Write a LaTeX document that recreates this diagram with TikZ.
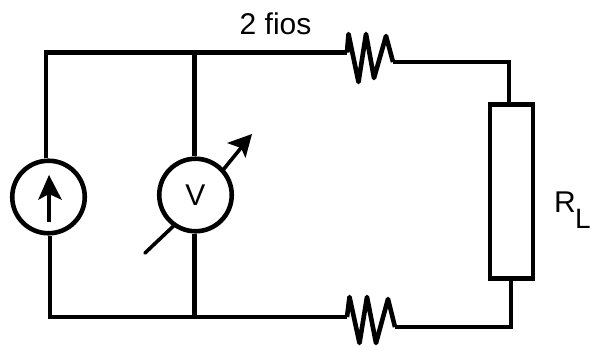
\documentclass[tikz,border=0pt]{standalone}
\usepackage{fontspec}
\setmainfont{Liberation Sans}
\tikzset{
  wire/.style={line width=4.8pt,line join=miter},
  thinwire/.style={line width=3.6pt,line cap=round},
  meter/.style={circle,draw,line width=4.6pt,minimum size=72.5pt,inner sep=0pt,font=\fontsize{30}{30}\selectfont},
  loadbox/.style={rectangle,draw,line width=4.8pt,minimum width=43pt,minimum height=174.5pt,inner sep=0pt},
  label/.style={inner sep=0pt,font=\fontsize{30}{30}\selectfont,text=black},
  coil/.style={line width=4.6pt,line join=round,line cap=butt}
}
\begin{document}
\begin{tikzpicture}[x=1pt,y=-1pt]
\useasboundingbox (0,0) rectangle (591,349);
\fill[white] (0,0) rectangle (591,349);
% instruments
\node[meter] (src) at (48.5,197) {};
\node[meter] (vm) at (195.5,195) {\raisebox{0pt}{V}};
\node[loadbox] (load) at (511.5,191.5) {};
% named corner points
\coordinate (tl) at (46,52.5);
\coordinate (tm) at (194.5,52.5);
\coordinate (bl) at (50,317);
\coordinate (bm) at (194.5,317);
\coordinate (r1a) at (347,52.5);
\coordinate (r1b) at (393,62);
\coordinate (r2a) at (347,317);
\coordinate (r2b) at (395,327);
\coordinate (c1) at (509,62);
\coordinate (c2) at (511,327);
% wires
\draw[wire] (src.north -| tl) -- (tl) -- (r1a);
\draw[wire] (tm) -- (vm.north -| tm);
\draw[wire] (src.south -| bl) -- (bl) -- (r2a);
\draw[wire] (bm) -- (vm.south -| bm);
\draw[wire] (r1b) -- (c1) -- (load.north -| c1);
\draw[wire] (r2b) -- (c2) -- (load.south -| c2);
% series resistances
\draw[coil] (r1a) -- (348.5,34) -- (358.5,82) -- (366,34) -- (374,78) -- (386,36) -- (r1b);
\draw[coil] (r2a) -- (349.5,297) -- (359.5,343) -- (367,297) -- (376,343) -- (388,299) -- (r2b);
% source arrow
\coordinate (sa) at (49,222);
\coordinate (sb) at (49,185);
\draw[line width=4.8pt] (sa) -- (sb);
\fill (49,175) -- (62,200) -- (49,194) -- (38,200) -- cycle;
% meter needle
\coordinate (n1) at (145,253);
\coordinate (n2) at (173.5,226);
\coordinate (n3) at (223,170);
\coordinate (n4) at (245,143);
\draw[thinwire] (n1) -- (n2);
\draw[thinwire] (n3) -- (n4);
\fill (252,134) -- (245.5,158) -- (241,148) -- (227,143) -- cycle;
% labels
\node[label,anchor=base west] (wires) at (239.5,34) {2 fios};
\node[label,anchor=base west] (rl) at (554,212) {R};
\node[label,anchor=base west,font=\fontsize{28}{28}\selectfont] (rlsub) at (575,228) {L};
\end{tikzpicture}
\end{document}
